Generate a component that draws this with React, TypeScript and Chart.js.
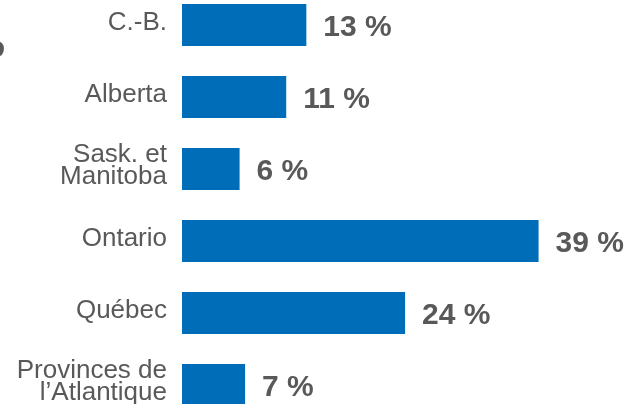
import React, { useEffect, useRef } from "react";
import { Chart, registerables } from "chart.js";

Chart.register(...registerables);

const categories: string[][] = [
  ["C.-B."],
  ["Alberta"],
  ["Sask. et", "Manitoba"],
  ["Ontario"],
  ["Québec"],
  ["Provinces de", "l\u2019Atlantique"],
];
const shares = [13.6, 11.4, 6.3, 39, 24.4, 6.9];
const shareLabels = ["13 %", "11 %", "6 %", "39 %", "24 %", "7 %"];

const BAR = "#006DB8";
const GREY = "#595959";
const FONT = "'Liberation Sans', Arial, sans-serif";

const labelPlugin = {
  id: "labels",
  afterDatasetsDraw(chart: any) {
    const ctx = chart.ctx;
    const meta = chart.getDatasetMeta(0);
    const left = chart.chartArea.left;
    ctx.save();
    ctx.fillStyle = GREY;
    ctx.textBaseline = "alphabetic";
    // value labels
    ctx.font = `bold 30px ${FONT}`;
    ctx.textAlign = "left";
    meta.data.forEach((el: any, i: number) => {
      ctx.fillText(shareLabels[i], el.x + 17, el.y + 11);
    });
    // category labels
    ctx.font = `26px ${FONT}`;
    ctx.textAlign = "right";
    meta.data.forEach((el: any, i: number) => {
      const lines = categories[i];
      const n = lines.length;
      lines.forEach((line, j) => {
        ctx.fillText(line, left - 15, el.y + 5 + (j - (n - 1) / 2) * 22 - (n > 1 ? 1.5 : 0));
      });
    });
    // fragment of cut-off text at the left edge
    ctx.font = `bold 30px ${FONT}`;
    ctx.textAlign = "right";
    ctx.fillText("o", 5, meta.data[0].y + 32);
    ctx.restore();
  },
};

export default function App() {
  const ref = useRef<HTMLCanvasElement | null>(null);
  useEffect(() => {
    document.body.style.margin = "0";
    document.body.style.overflow = "hidden";
    const chart = new Chart(ref.current!, {
      type: "bar",
      data: {
        labels: categories.map((c) => c.join(" ")),
        datasets: [
          {
            data: shares,
            backgroundColor: BAR,
            borderWidth: 0,
            categoryPercentage: 1,
            barPercentage: 42 / 72,
          },
        ],
      },
      options: {
        indexAxis: "y",
        animation: false,
        responsive: false,
        maintainAspectRatio: false,
        layout: { padding: { left: 182, right: 0, top: 0, bottom: 0 } },
        plugins: {
          legend: { display: false },
          tooltip: { enabled: false },
          title: { display: false },
        },
        scales: {
          x: { display: false, min: 0, max: 49 },
          y: { display: false },
        },
      },
      plugins: [labelPlugin],
    });
    return () => chart.destroy();
  }, []);
  return (
    <div style={{ position: "fixed", left: 0, top: -11, width: 630, height: 432 }}>
      <canvas ref={ref} width={630} height={432} style={{ width: 630, height: 432 }} />
    </div>
  );
}
